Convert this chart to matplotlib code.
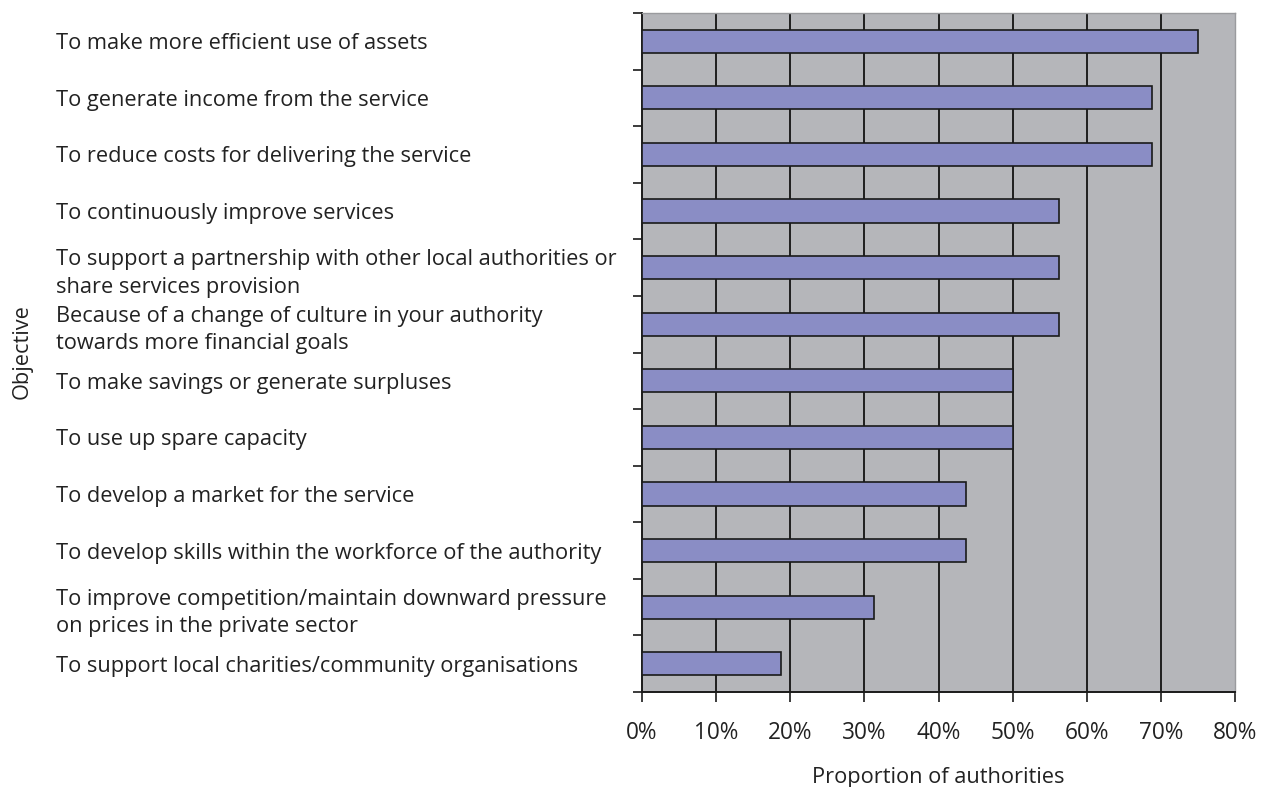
import matplotlib.pyplot as plt
import numpy as np

plt.rcParams['font.family'] = ['Open Sans', 'DejaVu Sans']

# Share of authorities citing each objective (%)
objectives = [
    "To make more efficient use of assets",
    "To generate income from the service",
    "To reduce costs for delivering the service",
    "To continuously improve services",
    "To support a partnership with other local authorities or\nshare services provision",
    "Because of a change of culture in your authority\ntowards more financial goals",
    "To make savings or generate surpluses",
    "To use up spare capacity",
    "To develop a market for the service",
    "To develop skills within the workforce of the authority",
    "To improve competition/maintain downward pressure\non prices in the private sector",
    "To support local charities/community organisations",
]
proportions = [75.0, 68.75, 68.75, 56.25, 56.25, 56.25, 50.0, 50.0, 43.75, 43.75, 31.25, 18.75]
xticks = [0, 10, 20, 30, 40, 50, 60, 70, 80]

FS = 15.7
TXT = '#222222'

fig = plt.figure(figsize=(12.66, 7.87), dpi=100)
ax = fig.add_axes([642 / 1266, 1 - 692 / 787, (1235 - 642) / 1266, (692 - 13) / 787])
ax.set_facecolor('#b5b6ba')

y = np.arange(len(objectives))
ax.barh(y, proportions, height=0.41, color='#8a8dc5', edgecolor='#1a1a1a',
        linewidth=1.2, zorder=3)

ax.set_xlim(0, 80)
ax.set_ylim(len(objectives) - 0.5, -0.5)
ax.set_xticks(xticks)
ax.set_xticklabels([f"{v}%" for v in xticks], fontsize=16.3, color=TXT)
for v in xticks[1:-1]:
    ax.axvline(v, color='#1e1e1e', linewidth=1.4, zorder=1)

# Category labels sit on major ticks (hidden); boundary ticks drawn as minor
ax.set_yticks(y)
ax.set_yticklabels(objectives, fontsize=FS, color=TXT, ha='left',
                   linespacing=1.4)
ax.tick_params(axis='y', which='major', length=0, pad=(642 - 56) * 0.72)
ax.set_yticks(np.arange(-0.5, len(objectives)), minor=True)
ax.tick_params(axis='y', which='minor', length=6.5, width=1.2, color='#1a1a1a')
ax.tick_params(axis='x', length=7, width=1.2, color='#1a1a1a', pad=14)

for side in ['top', 'right']:
    ax.spines[side].set_color('#9a9b9e')
    ax.spines[side].set_linewidth(1.0)
for side in ['left', 'bottom']:
    ax.spines[side].set_color('#1a1a1a')
    ax.spines[side].set_linewidth(1.4)

ax.set_xlabel('Proportion of authorities', fontsize=FS, color=TXT, labelpad=16)
fig.text(22 / 1266, 1 - 352 / 787, 'Objective', rotation=90, fontsize=FS,
         color=TXT, ha='center', va='center')

fig.savefig('out.png', dpi=100)
